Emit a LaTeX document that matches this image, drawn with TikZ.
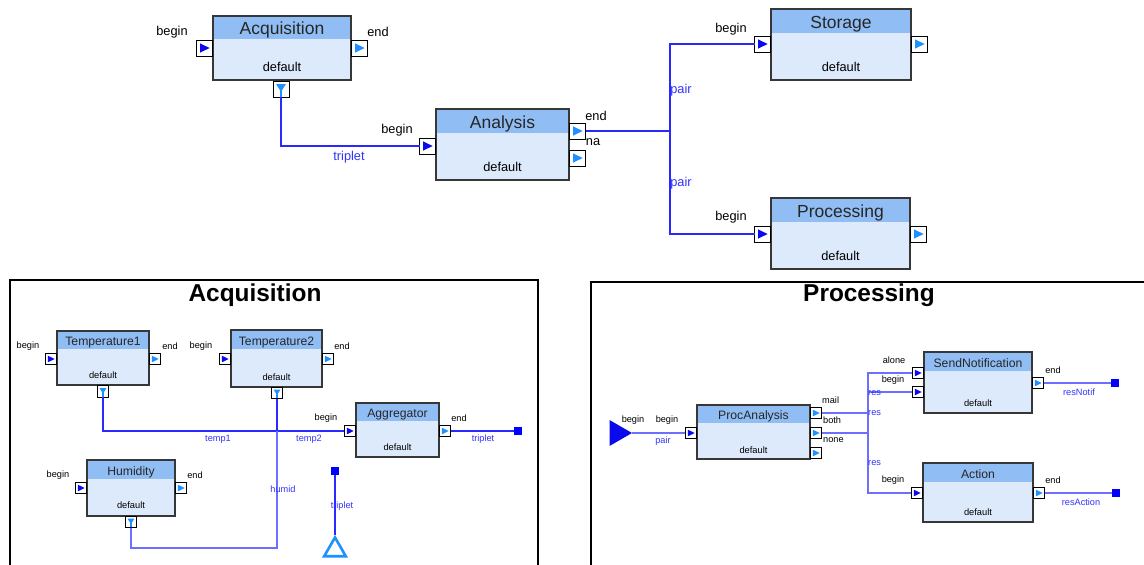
\documentclass[tikz,border=0pt]{standalone}
\usepackage{fontspec}
\setmainfont{Liberation Sans}
\usetikzlibrary{shapes.geometric,calc}
\definecolor{hd}{RGB}{145,189,245}
\definecolor{bd}{RGB}{221,234,252}
\definecolor{wireA}{RGB}{40,40,255}
\definecolor{wireB}{RGB}{110,110,255}
\definecolor{pdark}{RGB}{10,10,235}
\definecolor{plight}{RGB}{30,144,255}
\definecolor{frm}{RGB}{55,55,55}
\definecolor{wtxt}{RGB}{50,50,255}
\tikzset{
  blk/.style={draw=frm, fill=bd, line width=1.1pt, inner sep=0pt, outer sep=0pt},
  bigt/.style={font=\fontsize{17.5}{20}\selectfont, text=black!85, inner sep=0pt, anchor=base},
  bigd/.style={font=\fontsize{12.8}{14}\selectfont, inner sep=0pt, anchor=base},
  smallt/.style={font=\fontsize{12.2}{14}\selectfont, text=black!85, inner sep=0pt, anchor=base},
  smalld/.style={font=\fontsize{9.3}{11}\selectfont, inner sep=0pt, anchor=base},
  lbl/.style={font=\fontsize{12.8}{14}\selectfont, inner sep=0pt},
  wlbl/.style={font=\fontsize{12.8}{14}\selectfont, text=wtxt, inner sep=0pt},
  slbl/.style={font=\fontsize{9.2}{11}\selectfont, inner sep=0pt},
  wslbl/.style={font=\fontsize{9.2}{11}\selectfont, text=wtxt, inner sep=0pt},
  ptitle/.style={font=\fontsize{24.4}{28}\selectfont\bfseries, inner sep=0pt},
  panel/.style={draw=black, line width=1.8pt, anchor=north west, inner sep=0pt},
  port/.style 2 args={draw=black, fill=white, line width=0.8pt, minimum size=#1pt, inner sep=0pt, outer sep=0pt,
    path picture={\fill[#2] ([shift={({-0.28*#1pt},{0.29*#1pt})}]path picture bounding box.center) -- ([shift={({0.32*#1pt},0pt)}]path picture bounding box.center) -- ([shift={({-0.28*#1pt},{-0.29*#1pt})}]path picture bounding box.center) -- cycle;}},
  portd/.style 2 args={draw=black, fill=white, line width=0.8pt, minimum size=#1pt, inner sep=0pt, outer sep=0pt,
    path picture={\fill[#2] ([shift={({-0.3*#1pt},{0.3*#1pt})}]path picture bounding box.center) -- ([shift={({0.3*#1pt},{0.3*#1pt})}]path picture bounding box.center) -- ([shift={(0pt,{-0.18*#1pt})}]path picture bounding box.center) -- cycle;
      \draw[#2, line width=1.3pt] (path picture bounding box.center) -- (path picture bounding box.south);}},
  wireT/.style={draw=wireA, line width=1.3pt},
  wa/.style={draw=wireA, line width=1.2pt},
  wb/.style={draw=wireB, line width=1.2pt},
  outsq/.style={fill=blue, minimum size=7.5pt, inner sep=0pt},
}
\newcommand\mkblock[9]{%
  \node[blk, minimum width={(#4-#2)*1pt}, minimum height={(#5-#3)*1pt},
    path picture={\fill[hd] (path picture bounding box.north west) rectangle ([yshift={-#6pt}]path picture bounding box.north east);}]
    (#1) at ({(#2+#4)/2},{(#3+#5)/2}) {};
  \node[#8t] (#1t) at ({(#2+#4)/2},{#3+#6*0.8}) {#7};
  \node[#8d] (#1d) at ({(#2+#4)/2},{#5-#9}) {default};
}
\begin{document}
\begin{tikzpicture}[x=1pt,y=-1pt]
\useasboundingbox[fill=white] (0,0) rectangle (1144,565);

% ---------- top level ----------
\mkblock{acq}{213}{16}{351}{80}{23}{Acquisition}{big}{8.5}
\node[port={16}{pdark}] (acqB) at (204.5,48) {};
\node[port={16}{plight}] (acqE) at (359.5,48) {};
\node[portd={16}{plight}] (acqP) at (281,89) {};

\mkblock{ana}{436}{109}{569}{180}{24}{Analysis}{big}{8.5}
\node[port={16}{pdark}] (anaB) at (427.5,146) {};
\node[port={16}{plight}] (anaE) at (577.5,131) {};
\node[port={16}{plight}] (anaN) at (577.5,158) {};

\mkblock{sto}{771}{9}{911}{80}{24}{Storage}{big}{8.5}
\node[port={16}{pdark}] (stoB) at (762.5,44) {};
\node[port={16}{plight}] (stoE) at (919.5,44) {};

\mkblock{pro}{771}{198}{910}{269}{24}{Processing}{big}{8.5}
\node[port={16}{pdark}] (proB) at (762.5,234) {};
\node[port={16}{plight}] (proE) at (918.5,234) {};

\node[lbl] (t1) at (172,32) {begin};
\node[lbl] (t2) at (378,32) {end};
\node[lbl] (t3) at (397,130) {begin};
\node[lbl] (t4) at (596,116) {end};
\node[lbl] (t5) at (593,142) {na};
\node[lbl] (t6) at (731,29) {begin};
\node[lbl] (t7) at (731,217) {begin};

\draw[wireT] (acqP.south) |- (anaB.west);
\coordinate (sp) at (670,131);
\draw[wireT] (anaE.east) -- (sp);
\draw[wireT] (stoB.west) -| (sp) |- (proB.west);
\node[wlbl] (w1) at (349,157) {triplet};
\node[wlbl] (w2) at (681,90) {pair};
\node[wlbl] (w3) at (681,183) {pair};

% ---------- Acquisition panel ----------
\node[panel, minimum width=528pt, minimum height=310pt] (pacq) at (9,279) {};
\node[ptitle] (pacqT) at (255,295) {Acquisition};

\mkblock{ta}{57}{331}{149}{385}{18}{Temperature1}{small}{6.5}
\node[port={11.5}{pdark}] (taB) at (51,359) {};
\node[port={11.5}{plight}] (taE) at (155,359) {};
\node[portd={11.5}{plight}] (taP) at (103,391.5) {};

\mkblock{tb}{231}{330}{322}{387}{19}{Temperature2}{small}{6.5}
\node[port={11.5}{pdark}] (tbB) at (225,359) {};
\node[port={11.5}{plight}] (tbE) at (328,359) {};
\node[portd={11.5}{plight}] (tbP) at (277,393) {};

\mkblock{ag}{356}{403}{439}{457}{18}{Aggregator}{small}{6.5}
\node[port={11.5}{pdark}] (agB) at (350,431) {};
\node[port={11.5}{plight}] (agE) at (445,431) {};

\mkblock{hu}{87}{460}{175}{516}{19}{Humidity}{small}{7.5}
\node[port={11.5}{pdark}] (huB) at (81,488) {};
\node[port={11.5}{plight}] (huE) at (181,488) {};
\node[portd={11.5}{plight}] (huP) at (131,522) {};

\node[outsq] (agO) at (518,431) {};
\node[outsq] (tin) at (335,471) {};
\node[draw=plight, line width=2.6pt, regular polygon, regular polygon sides=3, minimum size=25pt, inner sep=0pt] (tri) at (335,550) {};

\draw[wa] (taP.south) |- (agB.west);
\coordinate (j2) at (277,431);
\draw[wa] (tbP.south) -- (j2);
\coordinate (hc) at (277,548);
\draw[wb] (huP.south) |- (hc) -- (j2);
\draw[wa] (agE.east) -- (agO);
\draw[wa] (tin) -- (tri.corner 1);

\node[slbl] (a1) at (28,346) {begin};
\node[slbl] (a2) at (170,346) {end};
\node[slbl] (a3) at (201,346) {begin};
\node[slbl] (a4) at (342,346) {end};
\node[slbl] (a5) at (326,418) {begin};
\node[slbl] (a6) at (459,418) {end};
\node[slbl] (a7) at (58,475) {begin};
\node[slbl] (a8) at (195,475) {end};
\node[wslbl] (b1) at (218,439) {temp1};
\node[wslbl] (b2) at (309,439) {temp2};
\node[wslbl] (b3) at (483,439) {triplet};
\node[wslbl] (b4) at (283,489) {humid};
\node[wslbl] (b5) at (342,506) {triplet};

% ---------- Processing panel ----------
\node[panel, minimum width=570pt, minimum height=310pt] (ppro) at (590,281) {};
\node[ptitle] (pproT) at (869,295) {Processing};

\node[fill=pdark, regular polygon, regular polygon sides=3, rotate=-90, minimum size=30pt, inner sep=0pt] (bigIn) at (617,433) {};

\mkblock{pa}{697}{405}{810}{459}{18}{ProcAnalysis}{small}{6}
\node[port={11.5}{pdark}] (paB) at (691,433) {};
\node[port={11.5}{plight}] (paM) at (816,413) {};
\node[port={11.5}{plight}] (paBo) at (816,433) {};
\node[port={11.5}{plight}] (paN) at (816,453) {};

\mkblock{sn}{924}{352}{1032}{413}{19}{SendNotification}{small}{6.5}
\node[port={11.5}{pdark}] (snA) at (918,373) {};
\node[port={11.5}{pdark}] (snB) at (918,392) {};
\node[port={11.5}{plight}] (snE) at (1038,383) {};

\mkblock{ac}{923}{463}{1033}{522}{19}{Action}{small}{6.5}
\node[port={11.5}{pdark}] (acB) at (917,493) {};
\node[port={11.5}{plight}] (acE) at (1039,493) {};

\node[outsq] (snO) at (1115,383) {};
\node[outsq] (acO) at (1116,493) {};

\draw[wb] (bigIn.corner 1) -- (paB.west);
\coordinate (bus) at (868,450);
\draw[wb] (snA.west) -| (bus) |- (acB.west);
\draw[wb] (snB.west) -- (snB.west -| bus);
\draw[wb] (paM.east) -- (paM.east -| bus);
\draw[wb] (paBo.east) -- (paBo.east -| bus);
\draw[wb] (snE.east) -- (snO);
\draw[wb] (acE.east) -- (acO);

\node[slbl] (c1) at (633,420) {begin};
\node[slbl] (c2) at (667,420) {begin};
\node[wslbl] (c3) at (663,441) {pair};
\node[slbl, anchor=west] (c4) at (822,400) {mail};
\node[slbl, anchor=west] (c5) at (823,420) {both};
\node[slbl, anchor=west] (c6) at (823,440) {none};
\node[slbl] (c7) at (894,360) {alone};
\node[slbl] (c8) at (893,380) {begin};
\node[slbl] (c9) at (893,480) {begin};
\node[slbl] (c10) at (1053,370) {end};
\node[slbl] (c11) at (1053,480) {end};
\node[wslbl, anchor=west] (d1) at (868,393) {res};
\node[wslbl, anchor=west] (d2) at (868,413) {res};
\node[wslbl, anchor=west] (d3) at (868,463) {res};
\node[wslbl] (d4) at (1079,392) {resNotif};
\node[wslbl] (d5) at (1081,502) {resAction};
\end{tikzpicture}
\end{document}
